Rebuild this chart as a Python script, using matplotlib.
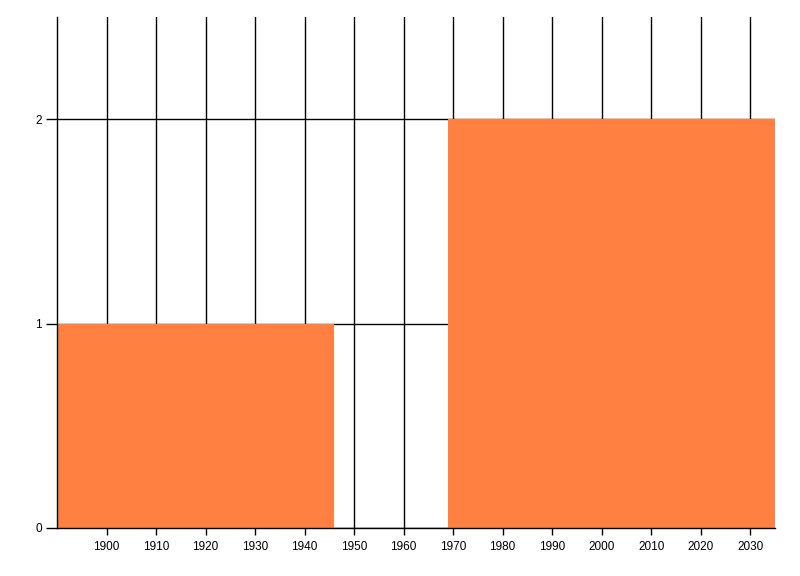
import matplotlib
matplotlib.use("Agg")
import matplotlib.pyplot as plt

plt.rcParams["font.family"] = ["Liberation Sans", "DejaVu Sans"]

# bars: start year, end year, value
starts = [1890, 1969]
ends = [1946, 2035]
values = [1, 2]

x_ticks = list(range(1900, 2031, 10))
y_ticks = [0, 1, 2]

fig = plt.figure(figsize=(8, 5.76), dpi=100)
ax = fig.add_axes([57 / 800, 1 - 528 / 576, (775 - 57) / 800, (528 - 17) / 576])

widths = [e - s for s, e in zip(starts, ends)]
ax.bar(starts, values, width=widths, align="edge", color="#FF8040", zorder=2, linewidth=0)

ax.set_xlim(1890, 2035)
ax.set_ylim(0, 2.5)
ax.set_xticks(x_ticks)
ax.set_yticks(y_ticks)

ax.grid(True, color="black", linewidth=1, zorder=1)
ax.set_axisbelow(True)

for side in ["top", "right"]:
    ax.spines[side].set_visible(False)
for side in ["left", "bottom"]:
    ax.spines[side].set_color("black")
    ax.spines[side].set_linewidth(1)
    ax.spines[side].set_zorder(3)

ax.tick_params(axis="both", labelsize=8.5, length=8, width=1, color="black", direction="out")
ax.tick_params(axis="x", length=5, pad=4)
ax.tick_params(axis="y", pad=3)

fig.savefig("out.png", dpi=100)
